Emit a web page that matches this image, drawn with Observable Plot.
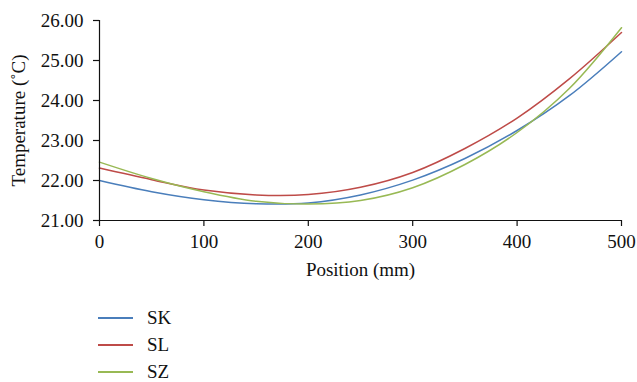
<!DOCTYPE html>
<html>
<head>
<meta charset="utf-8">
<script src="https://cdn.jsdelivr.net/npm/d3@7"></script>
<script src="https://cdn.jsdelivr.net/npm/@observablehq/plot@0.6"></script>
<style>
  html, body { margin: 0; padding: 0; background: #fff; }
  body { width: 637px; height: 382px; overflow: hidden; font-family: "Liberation Serif", "Times New Roman", serif; }
  #legend { margin-top: 14px; }
  .row { height: 27px; display: flex; align-items: center; font-size: 19px; color: #111; }
  .row svg { margin-left: 98px; margin-right: 14px; }
</style>
</head>
<body>
<div id="chart"></div>
<div id="legend"></div>
<script>
const positions = [0, 50, 100, 150, 200, 250, 300, 350, 400, 450, 500];
const SK = [22.00, 21.72, 21.52, 21.42, 21.44, 21.64, 22.01, 22.55, 23.25, 24.12, 25.22];
const SL = [22.31, 22.02, 21.76, 21.64, 21.65, 21.83, 22.20, 22.80, 23.56, 24.54, 25.70];
const SZ = [22.46, 22.05, 21.72, 21.48, 21.41, 21.50, 21.82, 22.40, 23.20, 24.30, 25.82];
const seriesNames = ["SK", "SL", "SZ"];
const seriesColors = ["#4a7ebb", "#be4b48", "#98b954"];
const xTicks = [0, 100, 200, 300, 400, 500];
const yTicks = [21, 22, 23, 24, 25, 26];

const valuesBySeries = {SK, SL, SZ};
const data = seriesNames.flatMap(name =>
  positions.map((p, i) => ({series: name, position: p, temp: valuesBySeries[name][i]}))
);

const chart = Plot.plot({
  width: 637,
  height: 290,
  marginLeft: 99,
  marginRight: 16,
  marginTop: 20,
  marginBottom: 70,
  style: {fontFamily: "'Liberation Serif', 'Times New Roman', serif", fontSize: "19px", color: "#111", background: "#fff"},
  x: {domain: [0, 500]},
  y: {domain: [21, 26]},
  color: {domain: seriesNames, range: seriesColors},
  marks: [
    Plot.line(data, {x: "position", y: "temp", z: "series", stroke: "series", curve: "catmull-rom", strokeWidth: 1.5}),
    Plot.ruleX([0], {stroke: "#111", strokeWidth: 1.2}),
    Plot.ruleY([21], {stroke: "#111", strokeWidth: 1.2}),
    Plot.axisX({ticks: xTicks, tickSize: 6, tickPadding: 8, label: "Position (mm)", labelAnchor: "center", labelArrow: "none", labelOffset: 55, stroke: "#111", strokeWidth: 1.2, strokeOpacity: 1}),
    Plot.axisY({ticks: yTicks, tickFormat: d => d.toFixed(2), tickSize: 6, tickPadding: 10, label: "Temperature (˚C)", labelAnchor: "center", labelArrow: "none", labelOffset: 88, stroke: "#111", strokeWidth: 1.2, strokeOpacity: 1})
  ]
});
document.getElementById("chart").appendChild(chart);

const legend = document.getElementById("legend");
seriesNames.forEach((name, i) => {
  const row = document.createElement("div");
  row.className = "row";
  row.innerHTML = `<svg width="35" height="4"><line x1="0" x2="35" y1="2" y2="2" stroke="${seriesColors[i]}" stroke-width="2"/></svg><span>${name}</span>`;
  legend.appendChild(row);
});
</script>
</body>
</html>
